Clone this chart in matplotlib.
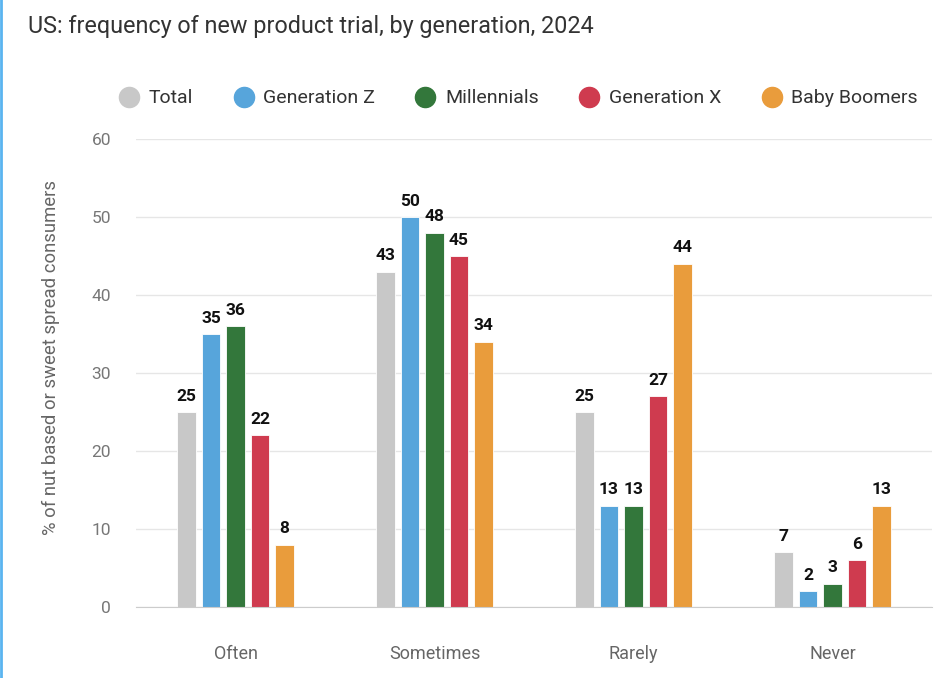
import matplotlib.pyplot as plt
from matplotlib.lines import Line2D
import numpy as np

plt.rcParams['font.family'] = ['Roboto', 'DejaVu Sans']

categories = ['Often', 'Sometimes', 'Rarely', 'Never']
series_names = ['Total', 'Generation Z', 'Millennials', 'Generation X', 'Baby Boomers']
total = [25, 43, 25, 7]
gen_z = [35, 50, 13, 2]
millennials = [36, 48, 13, 3]
gen_x = [22, 45, 27, 6]
boomers = [8, 34, 44, 13]
yticks = [0, 10, 20, 30, 40, 50, 60]

colors = ['#c8c8c8', '#57a5db', '#33773b', '#cf3b4f', '#e99c3c']
all_series = [total, gen_z, millennials, gen_x, boomers]

fig = plt.figure(figsize=(9.48, 6.78), dpi=100)
fig.patch.set_facecolor('white')
ax = fig.add_axes([0.1435, 0.1047, 0.8395, 0.6903])

x = np.arange(len(categories))
step = 0.123
width = 0.092
for i, (vals, col) in enumerate(zip(all_series, colors)):
    pos = x + (i - 2) * step
    bars = ax.bar(pos, vals, width, color=col, edgecolor='white', linewidth=0.6, zorder=3)
    for b, v in zip(bars, vals):
        ax.annotate(str(v), (b.get_x() + b.get_width() / 2, v), xytext=(0, 6),
                    textcoords='offset points', ha='center', va='bottom',
                    fontsize=12.5, fontweight='bold', color='#111111')

ax.set_xlim(-0.5, 3.5)
ax.set_ylim(0, 60)
ax.set_yticks(yticks)
ax.set_xticks(x)
ax.set_xticklabels(categories)
ax.tick_params(axis='x', length=0, pad=27, labelsize=13, labelcolor='#666666')
ax.tick_params(axis='y', length=0, pad=18, labelsize=12.5, labelcolor='#777777')
ax.grid(axis='y', color='#e6e6e6', linewidth=1, zorder=0)
for s in ['top', 'right', 'left']:
    ax.spines[s].set_visible(False)
ax.spines['bottom'].set_color('#cccccc')
ax.spines['bottom'].set_zorder(4)
ax.set_ylabel('% of nut based or sweet spread consumers', fontsize=13.3, color='#666666')
ax.yaxis.set_label_coords(-0.095, 0.534)

fig.text(0.03, 0.978, 'US: frequency of new product trial, by generation, 2024',
         fontsize=16.8, color='#333333', ha='left', va='top')

handles = [Line2D([], [], marker='o', linestyle='', markersize=14.5, markerfacecolor=c,
                  markeredgecolor=c) for c in colors]
fig.legend(handles, series_names, loc='center', bbox_to_anchor=(0.545, 0.855), ncol=5,
           frameon=False, fontsize=14, handletextpad=0.3, columnspacing=1.9,
           handlelength=1.4, labelcolor='#333333')

fig.add_artist(Line2D([0.001, 0.001], [0, 1], color='#5ab4f0', linewidth=2, transform=fig.transFigure))

fig.savefig('out.png', dpi=100)
